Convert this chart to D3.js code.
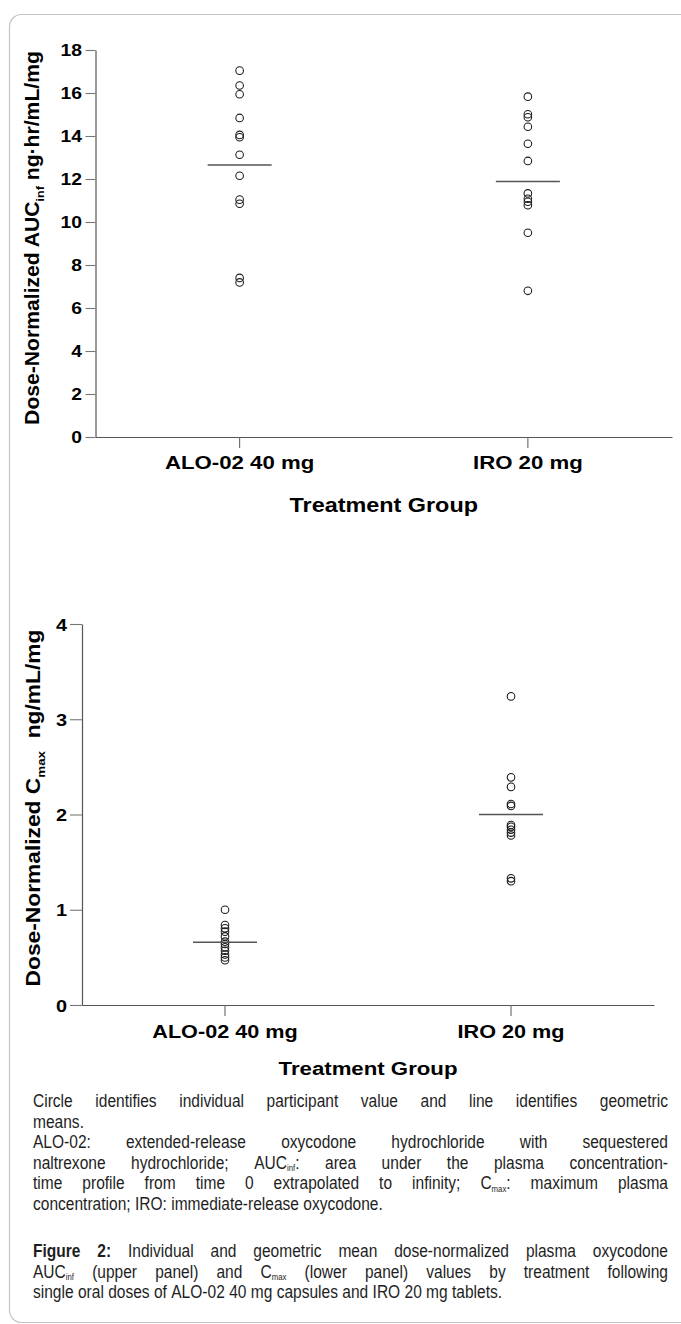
<!DOCTYPE html>
<html><head><meta charset="utf-8">
<script src="https://cdn.jsdelivr.net/npm/d3@7"></script>
<style>body{margin:0;background:#fff} svg{display:block}</style>
</head><body>
<svg id="c" width="681" height="1324"></svg>
<script>
// ---------- DATA ----------
const groups = ["ALO-02 40 mg", "IRO 20 mg"];
const aucALO = [17.04, 16.35, 15.94, 14.84, 14.05, 13.94, 13.13, 12.15, 11.04, 10.85, 7.40, 7.19];
const aucIRO = [15.83, 15.01, 14.87, 14.43, 13.64, 12.84, 11.33, 11.08, 10.94, 10.78, 9.50, 6.80];
const aucGeoMean = [12.65, 11.88];
const aucTicks = [0, 2, 4, 6, 8, 10, 12, 14, 16, 18];
const cmaxALO = [1.00, 0.84, 0.805, 0.77, 0.72, 0.665, 0.64, 0.605, 0.57, 0.53, 0.50, 0.47];
const cmaxIRO = [3.24, 2.39, 2.29, 2.11, 2.09, 1.89, 1.87, 1.84, 1.81, 1.78, 1.33, 1.30];
const cmaxGeoMean = [0.66, 2.00];
const cmaxTicks = [0, 1, 2, 3, 4];
const xTitle = "Treatment Group";

const captionParas = [
  ["Circle identifies individual participant value and line identifies geometric",
   "means."],
  ["ALO-02: extended-release oxycodone hydrochloride with sequestered",
   "naltrexone hydrochloride; AUC_{inf}: area under the plasma concentration-",
   "time profile from time 0 extrapolated to infinity; C_{max}: maximum plasma",
   "concentration; IRO: immediate-release oxycodone."],
  ["^Figure ^2: Individual and geometric mean dose-normalized plasma oxycodone",
   "AUC_{inf} (upper panel) and C_{max} (lower panel) values by treatment following",
   "single oral doses of ALO-02 40 mg capsules and IRO 20 mg tablets."]
];

// ---------- SETUP ----------
const svg = d3.select("#c");
const FONT = "'Liberation Sans', Arial, Helvetica, sans-serif";
const SX = 1.17; // horizontal stretch of chart lettering

svg.append("rect").attr("x", 9.5).attr("y", 14.5).attr("width", 700).attr("height", 1308)
  .attr("rx", 12).attr("fill", "none").attr("stroke", "#c4c4c4").attr("stroke-width", 1.2);

function drawPanel(cfg) {
  const g = svg.append("g");
  const x = d3.scaleBand().domain(groups).range(cfg.xRange).padding(0);
  const y = d3.scaleLinear().domain(cfg.yDomain).range(cfg.yRange);
  const cx = d => x(d) + x.bandwidth() / 2;

  // y axis
  const ya = g.append("g").attr("transform", `translate(${cfg.xRange[0]},0)`)
    .call(d3.axisLeft(y).tickValues(cfg.ticks).tickSize(cfg.yTick).tickSizeOuter(0).tickFormat(d3.format("d")));
  ya.select(".domain").attr("stroke", "#555").attr("stroke-width", 1.2);
  ya.selectAll(".tick line").attr("stroke", "#777").attr("stroke-width", 1.1);
  ya.selectAll(".tick text").attr("x", 0).attr("dy", "0.36em")
    .attr("transform", `translate(${-cfg.yLabOff},0) scale(${SX},1)`)
    .attr("font-family", FONT).attr("font-weight", "bold").attr("font-size", cfg.yTickFont).attr("fill", "#000");

  // x axis
  const xa = g.append("g").attr("transform", `translate(0,${cfg.yRange[0]})`)
    .call(d3.axisBottom(x).tickSize(11).tickSizeOuter(0).tickFormat(""));
  xa.select(".domain").attr("stroke", "#555").attr("stroke-width", 1.2);
  xa.selectAll(".tick line").attr("stroke", "#666").attr("stroke-width", 1.1);

  g.selectAll("g.xl").data(groups).join("g").attr("class", "xl")
    .attr("transform", d => `translate(${cx(d)},${cfg.yRange[0] + cfg.xLabDy}) scale(${SX},1)`)
    .append("text").attr("text-anchor", "middle")
    .attr("font-family", FONT).attr("font-weight", "bold").attr("font-size", cfg.xTickFont).text(d => d);

  g.append("g").attr("transform", `translate(${(cx(groups[0]) + cx(groups[1])) / 2},${cfg.titleY}) scale(${SX},1)`)
    .append("text").attr("text-anchor", "middle")
    .attr("font-family", FONT).attr("font-weight", "bold").attr("font-size", cfg.titleFont).text(xTitle);

  // y label
  const yl = g.append("g").attr("transform", `translate(${cfg.yLabX},${cfg.yLabY}) rotate(-90)`);
  const inner = yl.append("g");
  const t = inner.append("text").attr("text-anchor", "middle").style("white-space", "pre")
    .attr("font-family", FONT).attr("font-weight", "bold").attr("font-size", 19.5);
  t.append("tspan").text(cfg.yLab[0]);
  t.append("tspan").attr("font-size", 11.5).attr("dy", 4.5).text(cfg.yLab[1]);
  t.append("tspan").attr("dy", -4.5).text(cfg.yLab[2]);
  const len = t.node().getComputedTextLength();
  inner.attr("transform", `scale(${cfg.yLabLen / len},1)`);

  // points
  cfg.values.forEach((vals, i) => {
    g.append("g").selectAll("circle").data(vals).join("circle")
      .attr("cx", cx(groups[i])).attr("cy", d => y(d)).attr("r", 3.8)
      .attr("fill", "none").attr("stroke", "#1a1a1a").attr("stroke-width", 1.05);
  });
  // geometric means
  g.append("g").selectAll("line").data(cfg.means).join("line")
    .attr("x1", (d, i) => cx(groups[i]) - 32).attr("x2", (d, i) => cx(groups[i]) + 32)
    .attr("y1", d => y(d)).attr("y2", d => y(d))
    .attr("stroke", "#555").attr("stroke-width", 1.5);
}

drawPanel({
  values: [aucALO, aucIRO], means: aucGeoMean, ticks: aucTicks,
  yDomain: [0, 18], yRange: [437, 50], xRange: [95.5, 672],
  yTick: 10, yLabOff: 13.5, yTickFont: 16.5, xTickFont: 19, titleFont: 20, titleY: 512, xLabDy: 32,
  yLabX: 39, yLabY: 238, yLabLen: 374,
  yLab: ["Dose-Normalized AUC", "inf", " ng·hr/mL/mg"]
});
drawPanel({
  values: [cmaxALO, cmaxIRO], means: cmaxGeoMean, ticks: cmaxTicks,
  yDomain: [0, 4], yRange: [1005, 624], xRange: [82, 654],
  yTick: 12, yLabOff: 15, yTickFont: 17, xTickFont: 18.5, titleFont: 19, titleY: 1075, xLabDy: 33,
  yLabX: 40, yLabY: 808, yLabLen: 357,
  yLab: ["Dose-Normalized C", "max", "  ng/mL/mg"]
});

// ---------- CAPTION ----------
const capSize = 18.5, capSX = 0.84, capL = 33, capR = 668;
const capBase = [[1107, 1127.5], [1148, 1168.5, 1189, 1209.5], [1257, 1277.5, 1298]];
const cap = svg.append("g").attr("font-family", FONT).attr("font-size", capSize).attr("fill", "#1e1e1e");

function parseWord(w) {
  let bold = false;
  if (w.startsWith("^")) { bold = true; w = w.slice(1); }
  const segs = []; const re = /_\{([^}]*)\}/g; let last = 0, m;
  while ((m = re.exec(w))) {
    if (m.index > last) segs.push({ t: w.slice(last, m.index) });
    segs.push({ t: m[1], sub: true }); last = re.lastIndex;
  }
  if (last < w.length) segs.push({ t: w.slice(last) });
  return { bold, segs };
}

captionParas.forEach((para, pi) => {
  para.forEach((line, li) => {
    const justify = li < para.length - 1;
    const words = line.split(" ").map(parseWord);
    const nodes = words.map(w => {
      const t = cap.append("text").attr("font-weight", w.bold ? "bold" : null);
      let shifted = false;
      w.segs.forEach(s => {
        const sp = t.append("tspan").text(s.t);
        if (s.sub && !shifted) { sp.attr("font-size", capSize * 0.5).attr("dy", 2.5); shifted = true; }
        else if (!s.sub && shifted) { sp.attr("dy", -2.5); shifted = false; }
      });
      return t;
    });
    const widths = nodes.map(n => n.node().getComputedTextLength() * capSX);
    const total = d3.sum(widths);
    const gap = justify ? (capR - capL - total) / (nodes.length - 1) : 0.278 * capSize * capSX;
    let xx = capL;
    nodes.forEach((n, i) => {
      n.attr("transform", `translate(${xx},${capBase[pi][li]}) scale(${capSX},1)`);
      xx += widths[i] + gap;
    });
  });
});
</script>
</body></html>
